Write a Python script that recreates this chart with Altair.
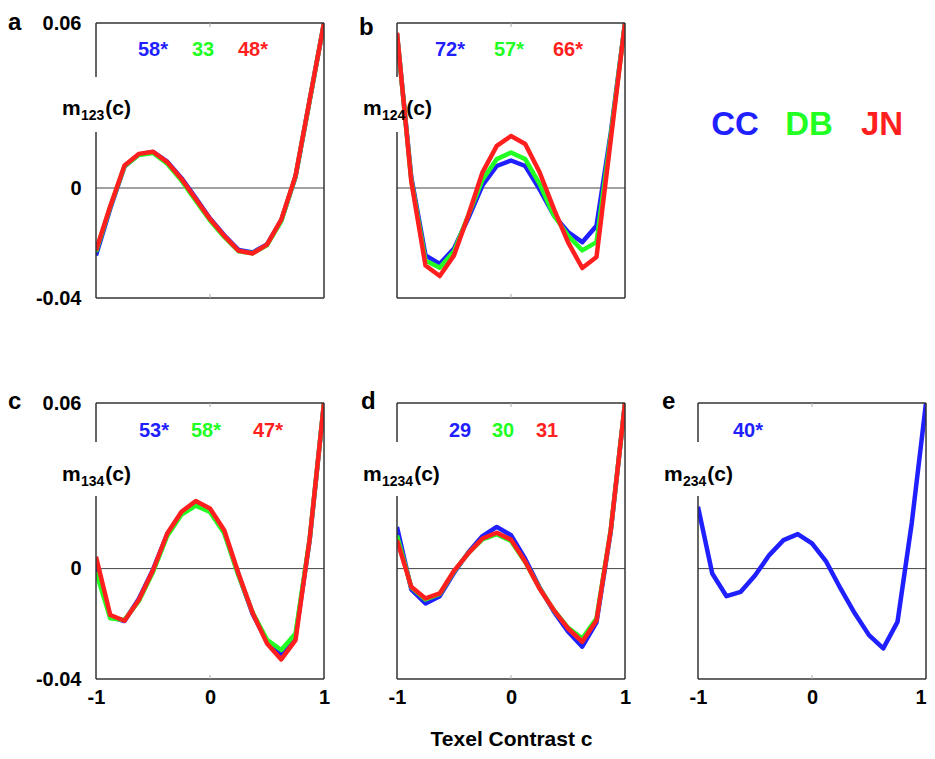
import altair as alt
import pandas as pd

# ---------------- data ----------------
C = [-1.0, -0.875, -0.75, -0.625, -0.5, -0.375, -0.25, -0.125, 0.0,
     0.125, 0.25, 0.375, 0.5, 0.625, 0.75, 0.875, 1.0]

SERIES = ["CC", "DB", "JN"]
COLORS = ["#1f1fff", "#22ff22", "#ff1f1f"]

a_CC = [-0.0245, -0.0075, 0.0078, 0.0122, 0.0131, 0.0096, 0.0036, -0.0037, -0.0111, -0.0172, -0.0225, -0.0234, -0.0205, -0.0118, 0.0040, 0.0320, 0.0600]
a_DB = [-0.0232, -0.0068, 0.0079, 0.0120, 0.0127, 0.0088, 0.0027, -0.0046, -0.0118, -0.0178, -0.0230, -0.0237, -0.0208, -0.0120, 0.0042, 0.0320, 0.0600]
a_JN = [-0.0227, -0.0066, 0.0082, 0.0124, 0.0132, 0.0094, 0.0033, -0.0040, -0.0113, -0.0174, -0.0228, -0.0238, -0.0206, -0.0115, 0.0044, 0.0322, 0.0600]

b_CC = [0.0560, 0.0040, -0.0245, -0.0276, -0.0220, -0.0110, 0.0010, 0.0080, 0.0100, 0.0080, -0.0004, -0.0099, -0.0160, -0.0197, -0.0137, 0.0200, 0.0600]
b_DB = [0.0560, 0.0030, -0.0264, -0.0290, -0.0230, -0.0100, 0.0030, 0.0105, 0.0129, 0.0105, 0.0016, -0.0099, -0.0173, -0.0227, -0.0197, 0.0190, 0.0600]
b_JN = [0.0565, 0.0025, -0.0282, -0.0320, -0.0245, -0.0100, 0.0057, 0.0153, 0.0189, 0.0160, 0.0058, -0.0075, -0.0197, -0.0291, -0.0251, 0.0175, 0.0600]

c_CC = [0.0010, -0.0175, -0.0190, -0.0110, -0.0004, 0.0125, 0.0200, 0.0235, 0.0210, 0.0132, -0.0022, -0.0165, -0.0265, -0.0310, -0.0245, 0.0105, 0.0600]
c_DB = [-0.0012, -0.0180, -0.0186, -0.0118, -0.0012, 0.0118, 0.0196, 0.0228, 0.0205, 0.0128, -0.0025, -0.0160, -0.0258, -0.0295, -0.0235, 0.0110, 0.0600]
c_JN = [0.0043, -0.0168, -0.0189, -0.0114, -0.0006, 0.0127, 0.0206, 0.0245, 0.0218, 0.0139, -0.0018, -0.0162, -0.0271, -0.0329, -0.0259, 0.0110, 0.0600]

d_CC = [0.0151, -0.0075, -0.0126, -0.0100, -0.0015, 0.0058, 0.0118, 0.0151, 0.0121, 0.0035, -0.0068, -0.0155, -0.0228, -0.0283, -0.0195, 0.0135, 0.0600]
d_DB = [0.0120, -0.0068, -0.0112, -0.0092, -0.0010, 0.0056, 0.0106, 0.0125, 0.0100, 0.0023, -0.0070, -0.0150, -0.0214, -0.0253, -0.0180, 0.0140, 0.0600]
d_JN = [0.0103, -0.0066, -0.0108, -0.0090, -0.0008, 0.0055, 0.0109, 0.0130, 0.0105, 0.0025, -0.0072, -0.0150, -0.0217, -0.0265, -0.0187, 0.0139, 0.0600]

e_CC = [0.0224, -0.0018, -0.0100, -0.0084, -0.0025, 0.0049, 0.0103, 0.0125, 0.0091, 0.0025, -0.0072, -0.0162, -0.0241, -0.0289, -0.0193, 0.0165, 0.0600]

PANEL_LETTERS = ["a", "b", "c", "d", "e"]
PANEL_SUBS = ["123", "124", "134", "1234", "234"]
PANEL_NUMS = [["58*", "33", "48*"], ["72*", "57*", "66*"], ["53*", "58*", "47*"],
              ["29", "30", "31"], ["40*"]]

Y_TICKS = [-0.04, 0.0, 0.06]
Y_LABELS = ["-0.04", "0", "0.06"]
X_TICKS = [-1, 0, 1]
X_LABELS = ["-1", "0", "1"]
X_TITLE = "Texel Contrast c"

# ---------------- style ----------------
W = 228
H_TOP, H_BOT = 275, 276
COL_GAP, ROW_GAP = 73, 105
FONT = "Liberation Sans"
FRAME = "#333333"

NUM_X = [[57, 107, 157], [53, 112, 171], [58, 110, 172], [63, 106, 150], [50]]
NUM_Y = [27, 27, 28, 28, 28]
LETTER_POS = [(-88, 7), (-38, 12), (-88, 6), (-36, 6), (-36, 6)]


def label_expr(ticks, labels):
    parts = [f"abs(datum.value - ({t})) < 1e-9 ? '{l}'" for t, l in zip(ticks, labels)]
    return " : ".join(parts) + " : ''"


def make_panel(idx, series_data, show_y, show_x, top_row, x_title=False, flush_right=False):
    H = H_TOP if top_row else H_BOT
    rows = []
    for s, vals in series_data.items():
        for i, (cx, v) in enumerate(zip(C, vals)):
            rows.append({"series": s, "c": cx, "m": v, "i": i})
    df = pd.DataFrame(rows)

    xscale = alt.Scale(domain=[-1, 1], nice=False, zero=False)
    yscale = alt.Scale(domain=[-0.04, 0.06], nice=False, zero=False)
    if show_x:
        xa = dict(values=X_TICKS, labelExpr=label_expr(X_TICKS, X_LABELS),
                  ticks=False, tickSize=0, domain=False, grid=False,
                  labelFont=FONT, labelFontWeight="bold", labelFontSize=20,
                  labelColor="black", labelPadding=8, labelFlush=False,
                  titleFont=FONT, titleFontWeight="bold", titleFontSize=21,
                  titleColor="black", titlePadding=21)
        if flush_right:
            xa["labelAlign"] = {"condition": {"test": "datum.value >= 1", "value": "right"},
                                "value": "center"}
        xaxis = alt.Axis(**xa)
    else:
        xaxis = None
    if show_y:
        yaxis = alt.Axis(values=Y_TICKS, labelExpr=label_expr(Y_TICKS, Y_LABELS),
                         ticks=False, tickSize=0, domain=False, grid=False,
                         labelFont=FONT, labelFontWeight="bold", labelFontSize=20,
                         labelColor="black", labelPadding=15, labelFlush=False)
    else:
        yaxis = None

    xt = X_TITLE if x_title else None

    layers = []
    # zero line
    layers.append(alt.Chart(pd.DataFrame({"z": [0.0]})).mark_rule(color="#444444", strokeWidth=1).encode(
        y=alt.Y("z:Q", scale=yscale, axis=yaxis, title=None),
        x=alt.value(0), x2=alt.value(W)))
    # series lines
    for s, col in zip(SERIES, COLORS):
        if s not in series_data:
            continue
        layers.append(alt.Chart(df).transform_filter(alt.datum.series == s).mark_line(
            strokeWidth=4.5, clip=True, strokeJoin="round").encode(
            x=alt.X("c:Q", scale=xscale, axis=xaxis, title=xt),
            y=alt.Y("m:Q", scale=yscale, axis=yaxis, title=None),
            order="i:Q",
            color=alt.value(col)))

    one = pd.DataFrame({"k": [0]})
    # frame
    gap = (54, 109) if top_row else (39, 93)
    fr = dict(color=FRAME, strokeWidth=1.5)
    layers.append(alt.Chart(one).mark_rule(**fr).encode(x=alt.value(0), x2=alt.value(W), y=alt.value(0)))
    layers.append(alt.Chart(one).mark_rule(**fr).encode(x=alt.value(0), x2=alt.value(W), y=alt.value(H)))
    layers.append(alt.Chart(one).mark_rule(**fr).encode(x=alt.value(W), y=alt.value(0), y2=alt.value(H)))
    layers.append(alt.Chart(one).mark_rule(**fr).encode(x=alt.value(0), y=alt.value(0), y2=alt.value(gap[0])))
    layers.append(alt.Chart(one).mark_rule(**fr).encode(x=alt.value(0), y=alt.value(gap[1]), y2=alt.value(H)))
    # small inner ticks at c = 0
    layers.append(alt.Chart(one).mark_rule(color="#aaaaaa", strokeWidth=1).encode(
        x=alt.value(W / 2), y=alt.value(0), y2=alt.value(4)))
    layers.append(alt.Chart(one).mark_rule(color="#aaaaaa", strokeWidth=1).encode(
        x=alt.value(W / 2), y=alt.value(H - 4), y2=alt.value(H)))

    # statistic numbers
    for txt, px, col in zip(PANEL_NUMS[idx], NUM_X[idx], COLORS):
        layers.append(alt.Chart(pd.DataFrame({"t": [txt]})).mark_text(
            font=FONT, fontSize=20, fontWeight="bold", color=col, baseline="middle", align="center").encode(
            text="t:N", x=alt.value(px), y=alt.value(NUM_Y[idx])))

    # y label m_sub(c)
    base_y = 92 if top_row else 78
    x0 = -34
    layers.append(alt.Chart(pd.DataFrame({"t": ["m"]})).mark_text(
        font=FONT, fontSize=21, fontWeight="bold", color="black", align="left", baseline="alphabetic").encode(
        text="t:N", x=alt.value(x0), y=alt.value(base_y)))
    sub = PANEL_SUBS[idx]
    layers.append(alt.Chart(pd.DataFrame({"t": [sub]})).mark_text(
        font=FONT, fontSize=14, fontWeight="bold", color="black", align="left", baseline="alphabetic").encode(
        text="t:N", x=alt.value(x0 + 19), y=alt.value(base_y + 5)))
    sub_w = 14 * 0.556 * len(sub)
    layers.append(alt.Chart(pd.DataFrame({"t": ["(c)"]})).mark_text(
        font=FONT, fontSize=21, fontWeight="bold", color="black", align="left", baseline="alphabetic").encode(
        text="t:N", x=alt.value(x0 + 19 + sub_w + 1), y=alt.value(base_y)))

    # panel letter
    lx, ly = LETTER_POS[idx]
    layers.append(alt.Chart(pd.DataFrame({"t": [PANEL_LETTERS[idx]]})).mark_text(
        font=FONT, fontSize=24, fontWeight="bold", color="black", align="left", baseline="alphabetic").encode(
        text="t:N", x=alt.value(lx), y=alt.value(ly)))

    return alt.layer(*layers).properties(width=W, height=H)


def legend_panel():
    layers = []
    pos = [37, 111, 184]
    for s, col, px in zip(SERIES, COLORS, pos):
        layers.append(alt.Chart(pd.DataFrame({"t": [s]})).mark_text(
            font=FONT, fontSize=33, fontWeight="bold", color=col, align="center", baseline="middle").encode(
            text="t:N", x=alt.value(px), y=alt.value(102)))
    return alt.layer(*layers).properties(width=W, height=H_TOP)


pa = make_panel(0, {"CC": a_CC, "DB": a_DB, "JN": a_JN}, True, False, True)
pb = make_panel(1, {"CC": b_CC, "DB": b_DB, "JN": b_JN}, False, False, True)
pc = make_panel(2, {"CC": c_CC, "DB": c_DB, "JN": c_JN}, True, True, False)
pd_ = make_panel(3, {"CC": d_CC, "DB": d_DB, "JN": d_JN}, False, True, False, x_title=True)
pe = make_panel(4, {"CC": e_CC}, False, True, False, flush_right=True)

chart = alt.concat(pa, pb, legend_panel(), pc, pd_, pe, columns=3,
                   spacing={"row": ROW_GAP, "column": COL_GAP}, bounds="flush").properties(
    padding={"left": 0, "top": 3, "right": 0, "bottom": 0},
    background="white"
).configure_view(strokeWidth=0, strokeOpacity=0)

chart.save("out.html", embed_options={"renderer": "svg", "actions": False})
